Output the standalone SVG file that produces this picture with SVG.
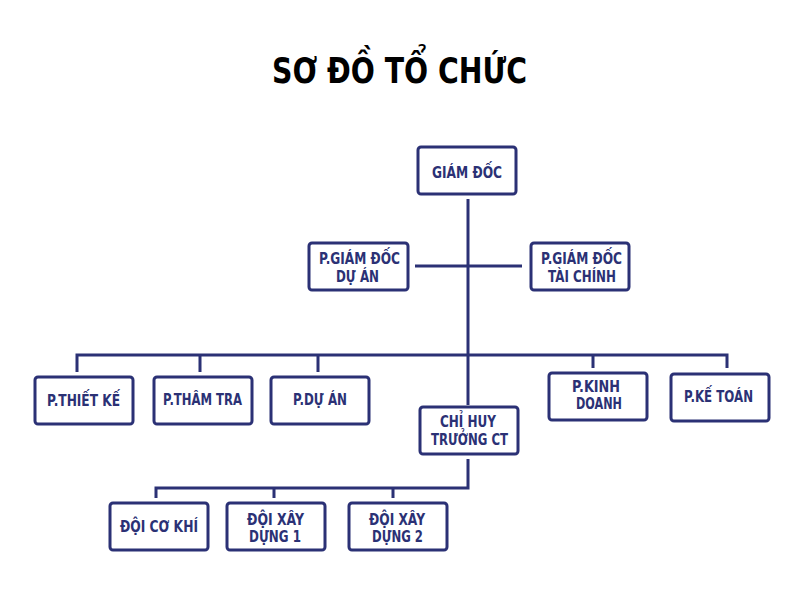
<svg xmlns="http://www.w3.org/2000/svg" width="800" height="600" viewBox="0 0 800 600">
<style>
.box{fill:#fff;stroke:#2b3175;stroke-width:3}
.lbl{font-family:"DejaVu Sans",sans-serif;font-weight:bold;font-size:15px;fill:#2b3175;text-anchor:middle}
.ln{stroke:#2b3175;stroke-width:3;fill:none}
.title{font-family:"DejaVu Sans",sans-serif;font-weight:bold;font-size:36px;fill:#000;text-anchor:middle}
</style>
<rect width="800" height="600" fill="#fff"/>
<text class="title" x="399.5" y="83" textLength="255" lengthAdjust="spacingAndGlyphs">SƠ ĐỒ TỔ CHỨC</text>
<g id="connectors">
<path class="ln" d="M468,199 V405"/>
<path class="ln" d="M415,266 H522"/>
<path class="ln" d="M77,372 V355 H727 V368"/>
<path class="ln" d="M200,355 V372 M318,355 V372 M593,355 V368"/>
<path class="ln" d="M468,459 V488 H156 V498 M274,488 V498 M393,488 V498"/>
</g>
<g id="giam-doc"><rect class="box" x="418" y="147" width="98" height="47" rx="3"/><text class="lbl" x="467" y="178" textLength="70" lengthAdjust="spacingAndGlyphs">GIÁM ĐỐC</text></g>
<g id="pgd-du-an"><rect class="box" x="309" y="243" width="99" height="47" rx="3"/><text class="lbl" x="359.5" y="264" textLength="81" lengthAdjust="spacingAndGlyphs">P.GIÁM ĐỐC</text><text class="lbl" x="357.5" y="282" textLength="43" lengthAdjust="spacingAndGlyphs">DỰ ÁN</text></g>
<g id="pgd-tai-chinh"><rect class="box" x="531" y="243" width="98" height="47" rx="3"/><text class="lbl" x="581.5" y="264" textLength="81" lengthAdjust="spacingAndGlyphs">P.GIÁM ĐỐC</text><text class="lbl" x="582" y="282" textLength="68" lengthAdjust="spacingAndGlyphs">TÀI CHÍNH</text></g>
<g id="p-thiet-ke"><rect class="box" x="35" y="377" width="98" height="47" rx="3"/><text class="lbl" x="83.5" y="406" textLength="73" lengthAdjust="spacingAndGlyphs">P.THIẾT KẾ</text></g>
<g id="p-tham-tra"><rect class="box" x="154" y="377" width="98" height="47" rx="3"/><text class="lbl" x="202.5" y="405" textLength="79" lengthAdjust="spacingAndGlyphs">P.THÂM TRA</text></g>
<g id="p-du-an"><rect class="box" x="271" y="377" width="98" height="47" rx="3"/><text class="lbl" x="320" y="405" textLength="54" lengthAdjust="spacingAndGlyphs">P.DỰ ÁN</text></g>
<g id="chi-huy"><rect class="box" x="420" y="407" width="98" height="47" rx="3"/><text class="lbl" x="468" y="427" textLength="56" lengthAdjust="spacingAndGlyphs">CHỈ HUY</text><text class="lbl" x="469.5" y="445" textLength="77" lengthAdjust="spacingAndGlyphs">TRƯỞNG CT</text></g>
<g id="p-kinh-doanh"><rect class="box" x="549" y="373" width="98" height="47" rx="3"/><text class="lbl" x="596" y="392" textLength="48" lengthAdjust="spacingAndGlyphs">P.KINH</text><text class="lbl" x="599" y="409" textLength="46" lengthAdjust="spacingAndGlyphs">DOANH</text></g>
<g id="p-ke-toan"><rect class="box" x="671" y="374" width="98" height="47" rx="3"/><text class="lbl" x="718.5" y="402" textLength="69" lengthAdjust="spacingAndGlyphs">P.KẾ TOÁN</text></g>
<g id="doi-co-khi"><rect class="box" x="110" y="503" width="98" height="47" rx="3"/><text class="lbl" x="159" y="532" textLength="78" lengthAdjust="spacingAndGlyphs">ĐỘI CƠ KHÍ</text></g>
<g id="doi-xay-dung-1"><rect class="box" x="227" y="503" width="98" height="47" rx="3"/><text class="lbl" x="275.5" y="525" textLength="57" lengthAdjust="spacingAndGlyphs">ĐỘI XÂY</text><text class="lbl" x="275" y="542" textLength="52" lengthAdjust="spacingAndGlyphs">DỰNG 1</text></g>
<g id="doi-xay-dung-2"><rect class="box" x="349" y="503" width="98" height="47" rx="3"/><text class="lbl" x="397" y="525" textLength="56" lengthAdjust="spacingAndGlyphs">ĐỘI XÂY</text><text class="lbl" x="397.5" y="542" textLength="51" lengthAdjust="spacingAndGlyphs">DỰNG 2</text></g>
</svg>
